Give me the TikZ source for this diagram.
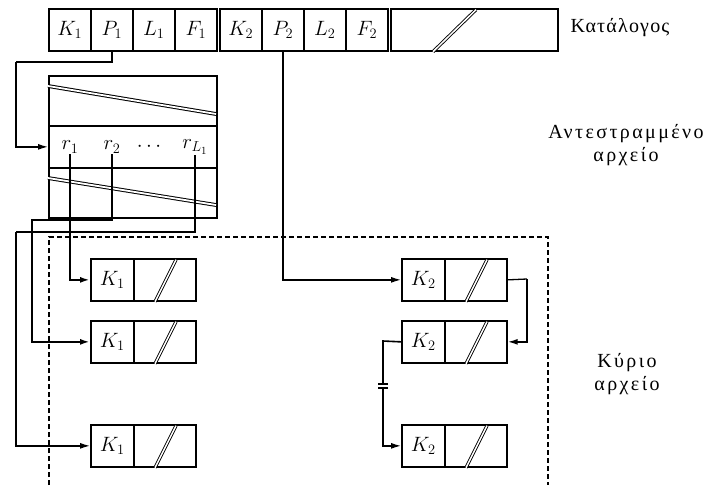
\documentclass[tikz,border=0pt]{standalone}
\usepackage{fontspec}
\newfontfamily\grk[LetterSpace=12]{Liberation Serif}
\newfontfamily\grkc[LetterSpace=6]{Liberation Serif}
\usetikzlibrary{arrows.meta}
\begin{document}
\begin{tikzpicture}[x=1pt,y=-1pt,
  box/.style={draw, line width=1.7pt, inner sep=0pt, anchor=north west, font=\fontsize{21}{25}\selectfont},
  cell/.style={box, minimum width=42pt, minimum height=42pt},
  keyc/.style={box, minimum width=43pt, minimum height=42pt},
  datac/.style={box, minimum width=62pt, minimum height=42pt},
  conn/.style={line width=1.3pt, -{Latex[length=10pt,width=6pt]}},
  thickconn/.style={conn, line width=2pt},
  plain/.style={line width=1.3pt},
  dbl/.style={line width=0.9pt, double, double distance=1.5pt},
  thindbl/.style={line width=1pt, double, double distance=1.8pt},
  lbl/.style={font=\grk\fontsize{20}{23}\selectfont, align=center},
  catlbl/.style={font=\grkc\fontsize{20}{23}\selectfont},
  rlab/.style={font=\fontsize{21}{25}\selectfont, inner sep=1pt}
]
\useasboundingbox (0,0) rectangle (714,485);

% Catalogue row
\node[cell] (k1) at (48,8) {$K_1$};
\node[cell] (p1) at (90,8) {$P_1$};
\node[cell] (l1) at (132,8) {$L_1$};
\node[cell] (f1) at (174,8) {$F_1$};
\node[cell] (k2) at (219,8) {$K_2$};
\node[cell] (p2) at (261,8) {$P_2$};
\node[cell] (l2) at (303,8) {$L_2$};
\node[cell] (f2) at (345,8) {$F_2$};
\node[box, minimum width=167pt, minimum height=42pt] (rest) at (390,8) {};
\draw[dbl] (rest.south west) ++(43,0) coordinate (s1a) -- ++(43,-42) coordinate (s1b);

% Inverted file
\node[box, minimum width=168pt, minimum height=50pt] (invtop) at (48,75) {};
\node[box, minimum width=168pt, minimum height=42pt] (invmid) at (48,125) {};
\node[box, minimum width=168pt, minimum height=50pt] (invbot) at (48,167) {};
\draw[thindbl] (48,86) coordinate (ta) -- (216,114) coordinate (tb);
\draw[thindbl] (48,178) coordinate (ba) -- (216,205) coordinate (bb);
\node[rlab] (r1) at (70,147) {$r_1$};
\node[rlab] (r2) at (112,147) {$r_2$};
\node[rlab] (dots) at (149,147) {$\cdots$};
\node[rlab] (rL) at (195,147) {$r_{L_1}$};

% Main file region
\draw[dashed, dash pattern=on 5pt off 3pt, line width=1.5pt]
  (49,485) coordinate (d1) -- (49,237) coordinate (d2) -- (548,237) coordinate (d3) -- (548,485) coordinate (d4);

% K1 boxes
\node[keyc] (ka) at (90,258) {$K_1$};
\node[datac] (da) at (133,258) {};
\node[keyc] (kb) at (90,320) {$K_1$};
\node[datac] (db) at (133,320) {};
\node[keyc] (kc) at (90,424) {$K_1$};
\node[datac] (dc) at (133,424) {};
% K2 boxes
\node[keyc] (kd) at (401,258) {$K_2$};
\node[datac] (dd) at (444,258) {};
\node[keyc] (ke) at (401,320) {$K_2$};
\node[datac] (de) at (444,320) {};
\node[keyc] (kf) at (401,424) {$K_2$};
\node[datac] (df) at (444,424) {};
\foreach \d in {da,db,dc,dd,de,df}{
  \draw[dbl] (\d.south west) ++(22,0) -- ++(21,-42);
}

% Connectors
\coordinate (c1) at (16,62);
\draw[plain] (p1.south) |- (c1);
\draw[conn] (c1) |- (invmid.west);

\draw[thickconn] (r1.south) |- (ka.west);
\coordinate (c2) at (32,220);
\draw[thickconn] (r2.south) |- (c2) |- (kb.west);
\coordinate (c3) at (16,232);
\draw[plain] (rL.south) |- (c3);
\draw[conn] (c3) |- (kc.west);

\draw[conn] (p2.south) |- (kd.west);
\coordinate (c4) at (527,279);
\draw[plain] (dd.east) -- (c4);
\draw[conn, line width=1.6pt] (c4) |- (de.east);
\coordinate (c5) at (383,341);
\coordinate (br1) at (383,384);
\coordinate (br2) at (383,388);
\draw[plain, line width=1.6pt] (ke.west) -- (c5) -- (br1);
\draw[plain, line width=1.1pt] ([xshift=-5pt]br1) -- ([xshift=5pt]br1);
\draw[plain, line width=1.1pt] ([xshift=-5pt]br2) -- ([xshift=5pt]br2);
\draw[conn] (br2) |- (kf.west);

% Labels
\node[catlbl] (cat) at (620,28) {Κατάλογος};
\node[lbl] (inf) at (626,145) {Αντεστραμμένο\\αρχείο};
\node[lbl] (mf) at (627,374) {Κύριο\\αρχείο};
\end{tikzpicture}
\end{document}
